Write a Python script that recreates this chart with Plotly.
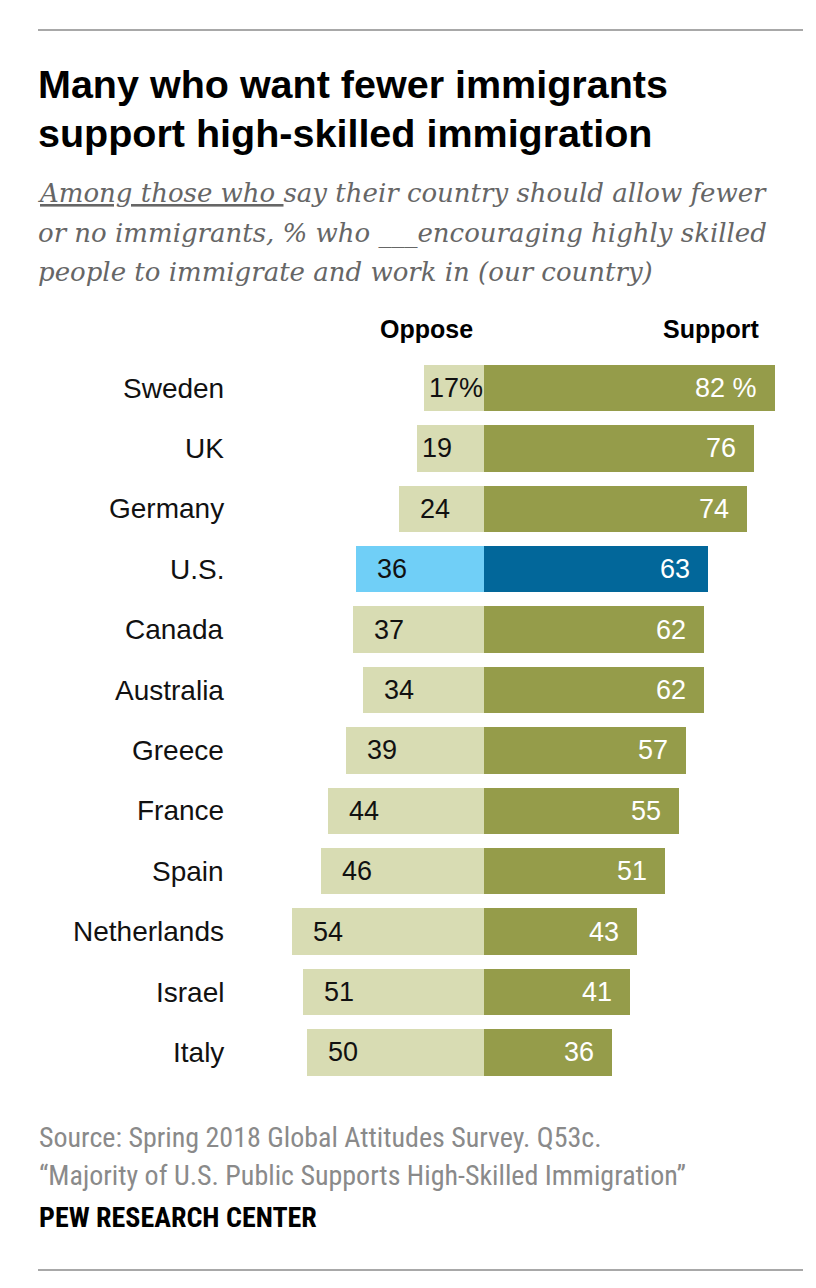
import plotly.graph_objects as go

countries = ["Sweden", "UK", "Germany", "U.S.", "Canada", "Australia", "Greece",
             "France", "Spain", "Netherlands", "Israel", "Italy"]
oppose = [17, 19, 24, 36, 37, 34, 39, 44, 46, 54, 51, 50]
support = [82, 76, 74, 63, 62, 62, 57, 55, 51, 43, 41, 36]
oppose_labels = ["17%", "19", "24", "36", "37", "34", "39", "44", "46", "54", "51", "50"]
support_labels = ["82 %", "76", "74", "63", "62", "62", "57", "55", "51", "43", "41", "36"]

OLIVE = "#959c4a"
OLIVE_LIGHT = "#d8dcb3"
BLUE = "#02679a"
BLUE_LIGHT = "#70cff7"

opp_colors = [BLUE_LIGHT if c == "U.S." else OLIVE_LIGHT for c in countries]
sup_colors = [BLUE if c == "U.S." else OLIVE for c in countries]

OFF = 8  # browser body margin
W, H = 808, 1280
NARROW = "Liberation Sans Narrow, Arial Narrow, Roboto Condensed, Liberation Sans, Arial, sans-serif"
SANS = "Liberation Sans, Arial, Helvetica, sans-serif"
SERIF = "DejaVu Serif, Georgia, serif"

fig = go.Figure()
fig.add_trace(go.Bar(
    y=countries, x=[-v for v in oppose], orientation="h",
    marker=dict(color=opp_colors, line=dict(width=0)), width=0.77,
    hoverinfo="skip", showlegend=False))
fig.add_trace(go.Bar(
    y=countries, x=support, orientation="h",
    marker=dict(color=sup_colors, line=dict(width=0)), width=0.77,
    hoverinfo="skip", showlegend=False))

annotations = []
for c, o, s, ol, sl in zip(countries, oppose, support, oppose_labels, support_labels):
    annotations.append(dict(x=-o, y=c, xref="x", yref="y", text=ol, showarrow=False,
                            xanchor="left", xshift=19 if o > 20 else 3,
                            font=dict(family=SANS, size=27, color="#111111")))
    annotations.append(dict(x=s, y=c, xref="x", yref="y", text=sl, showarrow=False,
                            xanchor="right", xshift=-16,
                            font=dict(family=SANS, size=27, color="#ffffff")))
    annotations.append(dict(x=(226 - OFF) / W, y=c, xref="paper", yref="y", text=c,
                            showarrow=False, xanchor="right",
                            font=dict(family=SANS, size=28, color="#111111")))

def px_ann(x, y, text, size, color, family, xanchor="left", yanchor="middle"):
    annotations.append(dict(x=(x - OFF) / W, y=1 - (y - OFF) / H, xref="paper", yref="paper",
                            text=text, showarrow=False, xanchor=xanchor, yanchor=yanchor,
                            align="left", font=dict(family=family, size=size, color=color)))

px_ann(36, 84, "<b>Many who want fewer immigrants</b>", 39.5, "#000000", SANS)
px_ann(36, 133, "<b>support high-skilled immigration</b>", 39.5, "#000000", SANS)
px_ann(36, 193, "<i><u>Among those who </u>say their country should allow fewer</i>", 26, "#666666", SERIF)
px_ann(36, 233, "<i>or no immigrants, % who ___encouraging highly skilled</i>", 26, "#666666", SERIF)
px_ann(36, 272, "<i>people to immigrate and work in (our country)</i>", 26, "#666666", SERIF)
px_ann(426, 329, "<b>Oppose</b>", 25, "#000000", SANS, xanchor="center")
px_ann(711, 329, "<b>Support</b>", 25, "#000000", SANS, xanchor="center")
px_ann(37, 1137, "Source: Spring 2018 Global Attitudes Survey. Q53c.", 28, "#8a8a8a", NARROW)
px_ann(37, 1175, "\u201cMajority of U.S. Public Supports High-Skilled Immigration\u201d", 28, "#8a8a8a", NARROW)
px_ann(37, 1217, "<b>PEW RESEARCH CENTER</b>", 28, "#000000", NARROW)

def hrule(y):
    return dict(type="line", xref="paper", yref="paper", x0=(38 - OFF) / W, x1=(803 - OFF) / W,
                y0=1 - (y - OFF) / H, y1=1 - (y - OFF) / H, line=dict(color="#a8a8a8", width=2))

shapes = [hrule(30), hrule(1270)]

PX_PER_UNIT = 3.55
ZERO_PX = 484 - OFF
ROW0_PX = 388 - OFF
ROW_PX = 60.4
fig.update_layout(
    width=W, height=H, margin=dict(l=0, r=0, t=0, b=0),
    paper_bgcolor="white", plot_bgcolor="white",
    barmode="relative", bargap=0,
    xaxis=dict(range=[-ZERO_PX / PX_PER_UNIT, (W - ZERO_PX) / PX_PER_UNIT],
               visible=False, fixedrange=True),
    yaxis=dict(categoryorder="array", categoryarray=countries,
               range=[(H - ROW0_PX) / ROW_PX, -ROW0_PX / ROW_PX],
               visible=False, fixedrange=True),
    annotations=annotations, shapes=shapes,
)

fig.write_html("out.html")
